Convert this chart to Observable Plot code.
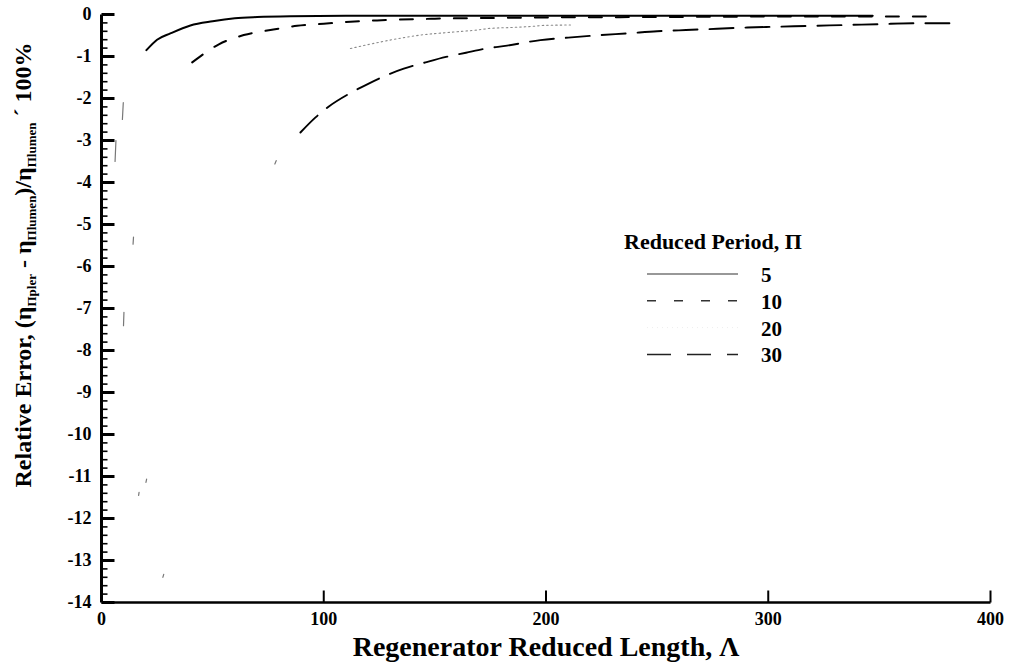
<!DOCTYPE html>
<html>
<head>
<meta charset="utf-8">
<script src="https://cdn.jsdelivr.net/npm/d3@7"></script>
<script src="https://cdn.jsdelivr.net/npm/@observablehq/plot@0.6"></script>
<style>
  html, body { margin: 0; padding: 0; background: #fff; }
  #chart svg { display: block; }
</style>
</head>
<body>
<div id="chart"></div>
<script>
// Relative error of the efficiency vs. regenerator reduced length, one curve per reduced period
const periods = [5, 10, 20, 30];

const lambda5 = [20.2, 25, 31, 40, 50, 60, 70, 85, 110, 150, 200, 250, 300, 347];
const err5    = [-0.85, -0.6, -0.45, -0.26, -0.16, -0.09, -0.06, -0.04, -0.03, -0.03, -0.03, -0.03, -0.03, -0.03];

const lambda10 = [40.8, 52.8, 64, 76, 88, 100, 112, 124, 150, 180, 200, 250, 300, 371];
const err10    = [-1.14, -0.71, -0.49, -0.37, -0.27, -0.22, -0.17, -0.14, -0.1, -0.08, -0.07, -0.06, -0.05, -0.05];

const lambda20 = [112, 135, 143.5, 151, 160, 169, 175, 184, 194.5, 199, 211];
const err20    = [-0.81, -0.56, -0.49, -0.45, -0.41, -0.37, -0.33, -0.31, -0.28, -0.26, -0.25];

const lambda30 = [89.5, 96.3, 102.3, 112, 120, 128.5, 136, 145.8, 155, 164, 172, 182.5, 197.5, 210, 224.5, 236.5, 250, 263, 277, 290.5, 305, 320, 335, 350, 365, 382];
const err30    = [-2.81, -2.45, -2.19, -1.87, -1.65, -1.44, -1.29, -1.14, -1.01, -0.91, -0.82, -0.74, -0.61, -0.55, -0.49, -0.45, -0.40, -0.37, -0.34, -0.31, -0.29, -0.27, -0.25, -0.23, -0.21, -0.21];

// faint short pieces of the steep low-length branches
const fragId     = [1, 1, 2, 2, 3, 3, 4, 4, 5, 5, 6, 6, 7, 7, 8, 8];
const fragLambda = [6.1, 6.5, 9.4, 9.8, 14.2, 14.4, 9.9, 10.1, 20.0, 20.3, 16.7, 16.9, 27.6, 28.0, 78.0, 78.6];
const fragErr    = [-3.5, -3.0, -2.5, -2.1, -5.47, -5.3, -7.41, -7.09, -11.14, -11.06, -11.45, -11.38, -13.40, -13.33, -3.56, -3.48];

const xTicks = [0, 100, 200, 300, 400];
const yTicks = [0, -1, -2, -3, -4, -5, -6, -7, -8, -9, -10, -11, -12, -13, -14];

const rows = (lam, err, period) => lam.map((x, i) => ({lambda: x, err: err[i], period}));
const data5 = rows(lambda5, err5, 5);
const data10 = rows(lambda10, err10, 10);
const data20 = rows(lambda20, err20, 20);
const data30 = rows(lambda30, err30, 30);
const fragments = fragLambda.map((x, i) => ({lambda: x, err: fragErr[i], id: fragId[i]}));

const yMinor = d3.range(-140, 0, 2).map(d => d / 10).filter(d => !Number.isInteger(d));

const W = 1013, H = 663;
const mL = 101, mR = 23, mT = 14, mB = 61;
const serif = "'Liberation Serif', 'Times New Roman', 'DejaVu Serif', serif";
const ink = "#000";

// tick glyphs: short strokes pointing into the plot area
const tickRight = len => ({draw(ctx) { ctx.moveTo(0, 0); ctx.lineTo(len, 0); }});
const tickUp = len => ({draw(ctx) { ctx.moveTo(0, 0); ctx.lineTo(0, -len); }});

const chart = Plot.plot({
  width: W,
  height: H,
  marginLeft: mL,
  marginRight: mR,
  marginTop: mT,
  marginBottom: mB,
  style: {fontFamily: serif, background: "#fff", color: "#000", overflow: "visible"},
  x: {domain: [0, 400]},
  y: {domain: [-14, 0]},
  marks: [
    // spines
    Plot.link([0], {x1: () => 0, x2: () => 0, y1: () => -14, y2: () => 0, stroke: ink, strokeWidth: 3}),
    Plot.link([0], {x1: () => 0, x2: () => 400, y1: () => -14, y2: () => -14, stroke: ink, strokeWidth: 2.5}),
    // inward ticks
    Plot.dot(yTicks, {x: () => 0, y: d => d, symbol: tickRight(13), r: 3, fill: "none", stroke: ink, strokeWidth: 3}),
    Plot.dot(yMinor, {x: () => 0, y: d => d, symbol: tickRight(6), r: 3, fill: "none", stroke: ink, strokeWidth: 1.6}),
    Plot.dot(xTicks.filter(d => d > 0), {x: d => d, y: () => -14, symbol: tickUp(12), r: 3, fill: "none", stroke: ink, strokeWidth: 2}),
    // curves
    Plot.line(fragments, {x: "lambda", y: "err", z: "id", stroke: "#777", strokeWidth: 1.2}),
    Plot.line(data20, {x: "lambda", y: "err", stroke: "#8a8a8a", strokeWidth: 1.1, strokeDasharray: "1.5,3", curve: "monotone-x"}),
    Plot.line(data30, {x: "lambda", y: "err", stroke: "#000", strokeWidth: 1.9, strokeDasharray: "24,12", curve: "monotone-x"}),
    Plot.line(data10, {x: "lambda", y: "err", stroke: "#000", strokeWidth: 2, strokeDasharray: "13,14", curve: "monotone-x"}),
    Plot.line(data5, {x: "lambda", y: "err", stroke: "#000", strokeWidth: 2, curve: "monotone-x"}),
    // axis labels and title
    Plot.axisY(yTicks, {tickSize: 0, tickPadding: 10, fontSize: 18, fontWeight: "bold", tickFormat: d => String(d), label: null}),
    Plot.axisX(xTicks, {tickSize: 0, tickPadding: 10, fontSize: 18, fontWeight: "bold", tickFormat: d => String(d), label: null}),
    Plot.text(["Regenerator Reduced Length, Λ"], {frameAnchor: "bottom", dy: 53, fontSize: 28, fontWeight: "bold", fill: "#000"})
  ]
});

document.getElementById("chart").append(chart);

const svg = d3.select(chart);

// y-axis title with subscripts
const yTitle = svg.append("text")
  .attr("transform", "translate(31,265) rotate(-90)")
  .attr("text-anchor", "middle")
  .attr("font-family", serif)
  .attr("font-weight", "bold")
  .attr("font-size", 24)
  .attr("fill", "#000");
const parts = [
  ["Relative Error, (η", 0, 24],
  ["Πpler", 5, 13],
  [" - η", -5, 24],
  ["Πlumen", 5, 13],
  [")/η", -5, 24],
  ["Πlumen", 5, 13],
  [" ´ 100%", -5, 24]
];
parts.forEach(([t, dy, fs]) => yTitle.append("tspan").attr("dy", dy).attr("font-size", fs).text(t));

// legend
const legend = svg.append("g")
  .attr("font-family", serif).attr("font-weight", "bold")
  .attr("fill", "#000").attr("text-anchor", "start");
legend.append("text").attr("x", 624).attr("y", 249).attr("font-size", 22).text("Reduced Period, Π");
const legendStyles = {
  5:  {stroke: "#333", width: 1.2, dash: null},
  10: {stroke: "#333", width: 1.4, dash: "9,18"},
  20: {stroke: "#eeeeee", width: 1, dash: "1,4"},
  30: {stroke: "#222", width: 1.5, dash: "24,16"}
};
periods.forEach((p, i) => {
  const base = 282 + i * 26.8;
  const s = legendStyles[p];
  legend.append("line")
    .attr("x1", 647).attr("x2", 738)
    .attr("y1", base - 8).attr("y2", base - 8)
    .attr("stroke", s.stroke).attr("stroke-width", s.width)
    .attr("stroke-dasharray", s.dash);
  legend.append("text").attr("x", 761).attr("y", base).attr("font-size", 21).text(String(p));
});
</script>
</body>
</html>
